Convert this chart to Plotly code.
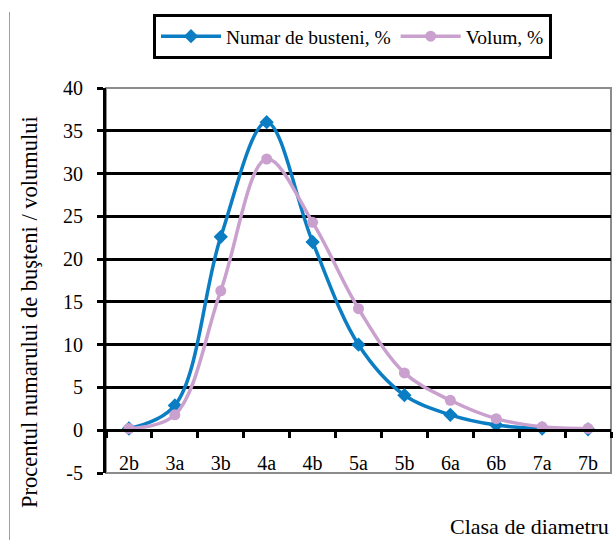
import plotly.graph_objects as go

# Diameter classes and their share of log count / volume (%)
clase = ["2b", "3a", "3b", "4a", "4b", "5a", "5b", "6a", "6b", "7a", "7b"]
numar_busteni = [0.2, 2.9, 22.6, 36.0, 22.0, 10.0, 4.1, 1.8, 0.6, 0.2, 0.1]
volum = [0.2, 1.8, 16.3, 31.7, 24.3, 14.2, 6.7, 3.5, 1.35, 0.4, 0.2]

y_ticks = list(range(-5, 45, 5))
y_ticktext = [str(v) for v in y_ticks]

BLUE = "#0B7DC3"
PURPLE = "#C9A0CE"
FONT = "Liberation Serif"

W, H = 613, 540
ML, MR, MT, MB = 106, 2, 88, 67
PW = W - ML - MR
PH = H - MT - MB

fig = go.Figure()

fig.add_trace(go.Scatter(
    x=clase, y=numar_busteni, name="Numar de busteni, %",
    mode="lines+markers",
    line=dict(color=BLUE, width=3.5, shape="spline", smoothing=1.0),
    marker=dict(symbol="diamond", size=11, color=BLUE),
))
fig.add_trace(go.Scatter(
    x=clase, y=volum, name="Volum, %",
    mode="lines+markers",
    line=dict(color=PURPLE, width=3.5, shape="spline", smoothing=1.0),
    marker=dict(symbol="circle", size=11, color=PURPLE),
))


def px_x(px):
    return (px - ML) / PW


def px_y(py):
    return (H - MB - py) / PH


shapes = [
    # plot-area frame
    dict(type="rect", xref="paper", yref="paper", x0=0, x1=1, y0=0, y1=1,
         line=dict(color="#8C8C8C", width=2), layer="below"),
    # chart-area left edge
    dict(type="line", xref="paper", yref="paper",
         x0=px_x(9.5), x1=px_x(9.5), y0=px_y(12), y1=px_y(545),
         line=dict(color="#A0A0A0", width=1)),
]

fig.update_layout(
    width=W, height=H,
    margin=dict(l=ML, r=MR, t=MT, b=MB),
    paper_bgcolor="white", plot_bgcolor="white",
    font=dict(family=FONT, size=20, color="black"),
    showlegend=True,
    legend=dict(
        orientation="h", x=px_x(153), y=px_y(14),
        xanchor="left", yanchor="top",
        bordercolor="black", borderwidth=3, bgcolor="white",
        font=dict(family=FONT, size=19.5, color="black"),
        itemwidth=60, tracegroupgap=0,
    ),
    xaxis=dict(
        type="category", range=[-0.5, len(clase) - 0.5],
        anchor="free", position=5 / 45,
        showline=True, linecolor="black", linewidth=3,
        ticks="outside", ticklen=6, tickwidth=3, tickcolor="black",
        tickson="boundaries", showgrid=False, zeroline=False,
        ticklabelstandoff=14,
        tickfont=dict(family=FONT, size=20, color="black"),
    ),
    yaxis=dict(
        range=[-5, 40], tickvals=y_ticks, ticktext=y_ticktext,
        showline=True, linecolor="black", linewidth=3,
        ticks="outside", ticklen=6, tickwidth=3, tickcolor="black",
        showgrid=True, gridcolor="black", gridwidth=3,
        zeroline=False, ticklabelstandoff=10,
        tickfont=dict(family=FONT, size=20, color="black"),
    ),
    shapes=shapes,
    annotations=[
        dict(text="Procentul numarului de buşteni / volumului",
             xref="paper", yref="paper", x=px_x(29), y=px_y(312),
             xanchor="center", yanchor="middle", textangle=-90,
             showarrow=False, font=dict(family=FONT, size=22.5, color="black")),
        dict(text="Clasa de diametru",
             xref="paper", yref="paper", x=px_x(611), y=px_y(526),
             xanchor="right", yanchor="middle",
             showarrow=False, font=dict(family=FONT, size=22, color="black")),
    ],
)

fig.write_html("out.html")
